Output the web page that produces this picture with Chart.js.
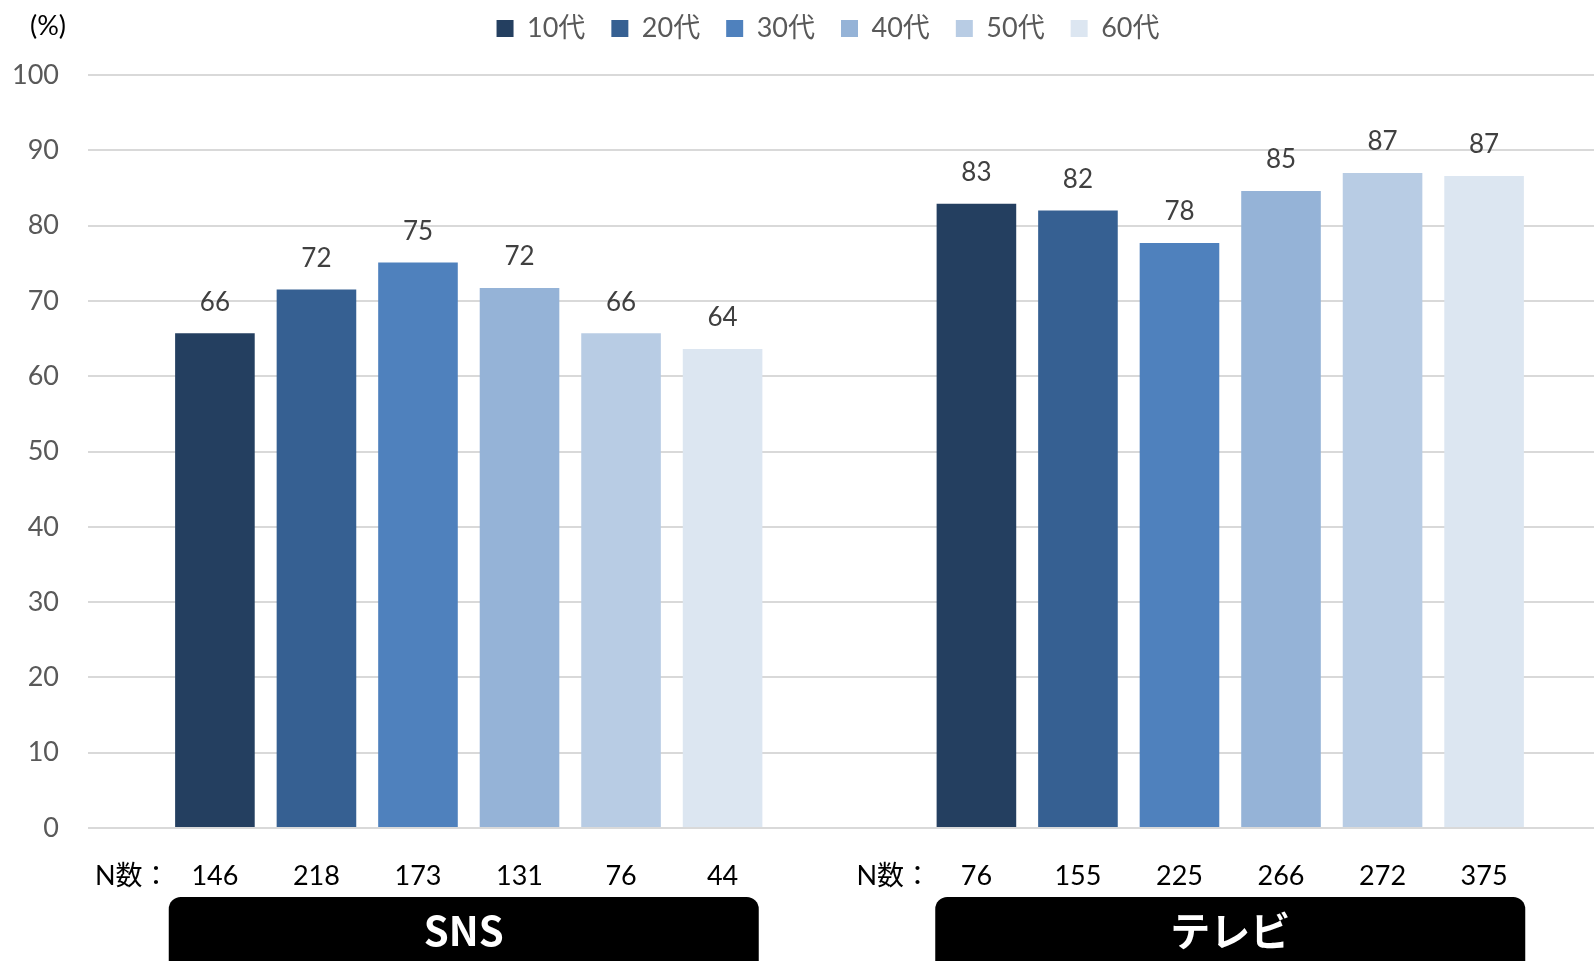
<!DOCTYPE html>
<html lang="ja">
<head>
<meta charset="utf-8">
<script src="https://cdn.jsdelivr.net/npm/chart.js@4.4.1/dist/chart.umd.min.js"></script>
<style>
  html, body { margin: 0; padding: 0; background: #fff; overflow: hidden; }
</style>
</head>
<body>
<canvas id="mediaChart" width="1611" height="961"></canvas>
<script>
// カテゴリと年代
const categories = ['SNS', 'テレビ'];
const ageGroups = ['10代', '20代', '30代', '40代', '50代', '60代'];
const ageColors = ['#243F60', '#366092', '#4F81BD', '#95B3D7', '#B8CCE4', '#DCE6F1'];

// 値 (%)
const snsValues = [65.7, 71.5, 75.1, 71.7, 65.7, 63.6];
const tvValues = [82.9, 82.0, 77.7, 84.6, 87.0, 86.6];

// N数
const snsCounts = [146, 218, 173, 131, 76, 44];
const tvCounts = [76, 155, 225, 266, 272, 375];

// 目盛り
const yMin = 0;
const yMax = 100;
const yStep = 10;

const FONT = "Lato, 'Noto Sans CJK JP', sans-serif";

document.addEventListener('DOMContentLoaded', function() {
    const ctx = document.getElementById('mediaChart').getContext('2d');
    const countsByCategory = [snsCounts, tvCounts];

    const datasets = ageGroups.map((age, i) => ({
        label: age,
        data: [snsValues[i], tvValues[i]],
        backgroundColor: ageColors[i],
        borderWidth: 0,
        categoryPercentage: 0.8,
        barPercentage: 0.784
    }));

    // 凡例の高さ調整
    const legendFit = {
        id: 'legendFit',
        afterInit(chart) {
            const legend = chart.legend;
            const origFit = legend.fit;
            legend.fit = function() {
                origFit.call(this);
                this.height += 23;
            };
        }
    };

    // 棒の上の数値
    const valueLabels = {
        id: 'valueLabels',
        afterDatasetsDraw(chart) {
            const c = chart.ctx;
            c.save();
            c.font = '26px ' + FONT;
            c.fillStyle = '#404040';
            c.textAlign = 'center';
            c.textBaseline = 'middle';
            chart.data.datasets.forEach((ds, d) => {
                chart.getDatasetMeta(d).data.forEach((bar, i) => {
                    c.fillText(Math.round(ds.data[i]), bar.x, bar.y - 31);
                });
            });
            c.restore();
        }
    };

    // (%)、N数、カテゴリ枠
    const extras = {
        id: 'extras',
        afterDraw(chart) {
            const c = chart.ctx;
            c.save();
            c.fillStyle = '#000';
            c.font = '27px ' + FONT;
            c.textAlign = 'center';
            c.textBaseline = 'middle';
            c.fillText('(%)', 48, 26);

            const first = chart.getDatasetMeta(0).data;
            const last = chart.getDatasetMeta(ageGroups.length - 1).data;

            categories.forEach((cat, ci) => {
                const x0 = first[ci].x;
                const center = (x0 + last[ci].x) / 2 - (ci === 0 ? 5 : 0);

                c.fillStyle = '#000';
                c.font = '27px ' + FONT;
                c.textAlign = 'left';
                c.fillText('N数：', x0 - 120, 876);
                c.textAlign = 'center';
                ageGroups.forEach((age, d) => {
                    const bx = chart.getDatasetMeta(d).data[ci].x;
                    c.fillText(countsByCategory[ci][d], bx, 876);
                });

                c.beginPath();
                c.roundRect(center - 295, 897, 590, 90, 12);
                c.fill();
                c.fillStyle = '#fff';
                c.font = "bold 40px 'Noto Sans CJK JP', sans-serif";
                c.fillText(cat, center, 931);
            });
            c.restore();
        }
    };

    new Chart(ctx, {
        type: 'bar',
        data: {
            labels: categories,
            datasets: datasets
        },
        options: {
            responsive: false,
            animation: false,
            devicePixelRatio: 1,
            layout: {
                padding: { top: -11, left: 45, right: 0, bottom: 133 }
            },
            plugins: {
                legend: {
                    position: 'top',
                    labels: {
                        boxWidth: 17,
                        boxHeight: 17,
                        padding: 26,
                        color: '#595959',
                        font: { size: 27, family: FONT }
                    }
                },
                tooltip: { enabled: false }
            },
            scales: {
                x: {
                    display: false
                },
                y: {
                    min: yMin,
                    max: yMax,
                    afterFit(axis) {
                        axis.width = 43;
                        // 目盛りラベルを軸幅で切らない
                        axis._computeLabelArea = () => undefined;
                    },
                    border: { display: false },
                    grid: {
                        color: '#d9d9d9',
                        lineWidth: 2,
                        tickLength: 0,
                        drawTicks: false
                    },
                    ticks: {
                        stepSize: yStep,
                        padding: 29,
                        color: '#595959',
                        font: { size: 27, family: FONT }
                    }
                }
            }
        },
        plugins: [legendFit, valueLabels, extras]
    });
});
</script>
</body>
</html>
